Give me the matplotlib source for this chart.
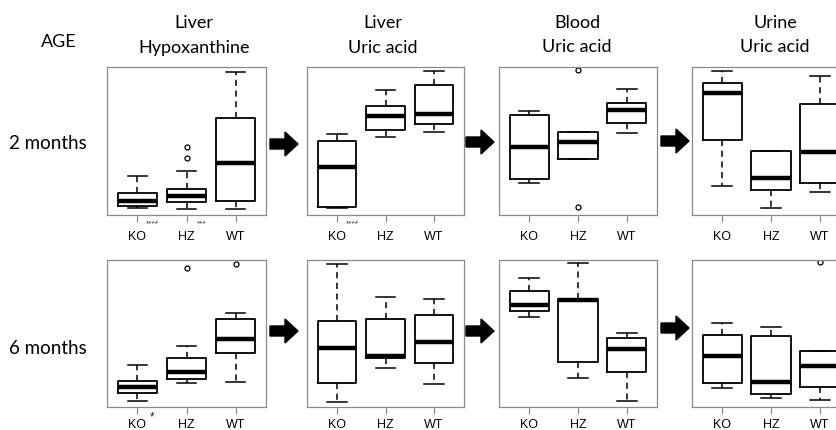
import matplotlib
matplotlib.use("Agg")
import matplotlib.pyplot as plt
from matplotlib.patches import FancyArrow
from matplotlib.transforms import blended_transform_factory

# ---------------- data (relative units, 0 = panel bottom, 100 = panel top) ----
groups = ["KO", "HZ", "WT"]
ages = ["2 months", "6 months"]
titles = [("Liver", "Hypoxanthine"), ("Liver", "Uric acid"),
          ("Blood", "Uric acid"), ("Urine", "Uric acid")]

# each box: (whislo, q1, med, q3, whishi, [fliers])
liver_hx_2m = [(4.7, 6.1, 9.5, 14.9, 26.4, []),
               (4.1, 8.8, 12.8, 17.6, 29.7, [45.9, 38.5]),
               (4.1, 9.5, 35.1, 65.5, 96.6, [])]
liver_ua_2m = [(4.7, 5.4, 32.4, 50.0, 54.7, []),
               (52.7, 57.4, 66.9, 73.6, 84.5, []),
               (56.1, 61.5, 68.2, 87.8, 97.3, [])]
blood_ua_2m = [(21.6, 24.3, 45.7, 67.4, 70.1, []),
               (37.8, 37.8, 49.5, 56.3, 56.3, [98.2, 5.2]),
               (55.4, 62.2, 70.9, 75.7, 85.1, [])]
urine_ua_2m = [(19.8, 50.7, 82.4, 89.4, 97.3, []),
               (4.5, 16.7, 25.2, 43.2, 43.2, []),
               (15.3, 21.6, 42.4, 75.2, 93.7, [])]

liver_hx_6m = [(3.9, 9.3, 13.8, 17.5, 28.8, []),
               (16.3, 18.8, 23.6, 33.1, 41.3, [94.8]),
               (17.2, 36.9, 46.3, 59.7, 64.2, [97.3])]
liver_ua_6m = [(3.6, 16.3, 40.1, 58.5, 97.3, []),
               (26.7, 33.1, 34.9, 59.9, 75.0, []),
               (15.6, 30.1, 44.4, 62.6, 73.7, [])]
blood_ua_6m = [(61.2, 65.3, 69.2, 78.7, 87.8, []),
               (19.5, 30.4, 72.8, 73.5, 97.8, []),
               (4.1, 23.6, 39.7, 46.9, 50.5, [])]
urine_ua_6m = [(12.7, 16.1, 34.9, 49.0, 56.9, []),
               (6.1, 8.8, 17.2, 48.5, 54.2, []),
               (5.0, 13.8, 28.1, 37.9, 37.9, [98.4])]

panels = [[liver_hx_2m, liver_ua_2m, blood_ua_2m, urine_ua_2m],
          [liver_hx_6m, liver_ua_6m, blood_ua_6m, urine_ua_6m]]

# significance marks: (row, col, group index, text)
signif = [(0, 0, 0, "****"), (0, 0, 1, "***"), (0, 1, 0, "****"), (1, 0, 0, "*")]

# ---------------- layout ----------------
W, H = 836, 431
fig = plt.figure(figsize=(W / 100, H / 100), dpi=100)
fig.patch.set_facecolor("white")

col_px = [(107, 266), (307, 464), (499, 657), (692, 850)]
row_px = [(68, 216), (261, 408)]
tick_pad = [6, 3]

title_font = "Lato"
tick_font = "Liberation Sans"

def rect(x0, x1, y0, y1):
    return [x0 / W, 1 - y1 / H, (x1 - x0) / W, (y1 - y0) / H]

for r, (y0, y1) in enumerate(row_px):
    for c, (x0, x1) in enumerate(col_px):
        ax = fig.add_axes(rect(x0, x1, y0, y1))
        stats = []
        for g, (lo, q1, med, q3, hi, fl) in zip(groups, panels[r][c]):
            stats.append(dict(label=g, whislo=lo, q1=q1, med=med, q3=q3,
                              whishi=hi, fliers=fl))
        ax.bxp(stats, positions=[1, 2, 3], widths=0.8, showfliers=True,
               boxprops=dict(color="black", linewidth=1.3),
               whiskerprops=dict(color="black", linewidth=1.1,
                                 linestyle=(0, (4, 3))),
               capprops=dict(color="black", linewidth=1.1),
               medianprops=dict(color="black", linewidth=3.2,
                                solid_capstyle="butt"),
               flierprops=dict(marker="o", markersize=3.6,
                               markerfacecolor="none",
                               markeredgecolor="black",
                               markeredgewidth=0.9, linestyle="none"))
        ax.set_xlim(0.38, 3.62)
        ax.set_ylim(0, 100)
        ax.set_yticks([])
        ax.set_xticks([1, 2, 3])
        ax.set_xticklabels(groups, fontfamily=tick_font, fontsize=9)
        ax.tick_params(axis="x", length=5, width=0.8, color="#8a8a8a",
                       pad=tick_pad[r])
        for s in ax.spines.values():
            s.set_color("#8a8a8a")
            s.set_linewidth(0.9)

        for (sr, sc, gi, txt) in signif:
            if sr == r and sc == c:
                tr = blended_transform_factory(ax.transData, ax.transAxes)
                if txt == "*":
                    ax.text(gi + 1 + 0.3, -0.065, txt, transform=tr,
                            ha="center", va="center", fontsize=8.5,
                            fontfamily=tick_font, color="#222222")
                else:
                    ax.text(gi + 1 + 0.31, -0.05, txt, transform=tr,
                            ha="center", va="center", fontsize=6,
                            fontfamily=tick_font, color="#333333")

# column titles
title_x = [194, 383, 577, 775]
for c, (l1, l2) in enumerate(titles):
    b1, b2 = (28, 53) if c < 2 else (28, 52)
    fig.text(title_x[c] / W, 1 - b1 / H, l1, ha="center", va="baseline",
             fontsize=13, fontfamily=title_font)
    fig.text(title_x[c] / W, 1 - b2 / H, l2, ha="center", va="baseline",
             fontsize=13, fontfamily=title_font)

# row labels
fig.text(59 / W, 1 - 47 / H, "AGE", ha="center", va="baseline",
         fontsize=13, fontfamily=title_font)
fig.text(48 / W, 1 - 149 / H, ages[0], ha="center", va="baseline",
         fontsize=13.5, fontfamily=title_font)
fig.text(48 / W, 1 - 354 / H, ages[1], ha="center", va="baseline",
         fontsize=13.5, fontfamily=title_font)

# block arrows between panels (pixel positions -> inches)
arrow_pos = [(270, 145), (466, 143), (661, 142),
             (270, 332), (466, 332), (661, 329)]
for (ax0, ay) in arrow_pos:
    arr = FancyArrow(ax0 / 100, (H - ay) / 100, 28 / 100, 0,
                     width=10 / 100, head_width=24 / 100,
                     head_length=13 / 100, length_includes_head=True,
                     color="black", transform=fig.dpi_scale_trans)
    fig.patches.append(arr)

fig.savefig("out.png", dpi=100, facecolor="white")
